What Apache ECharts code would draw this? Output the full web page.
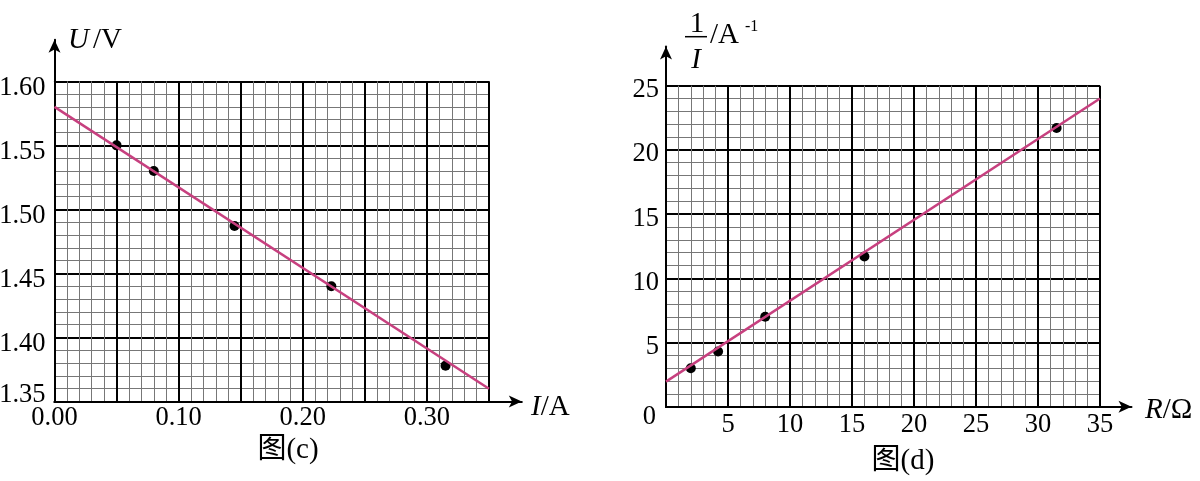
<!DOCTYPE html>
<html>
<head>
<meta charset="utf-8">
<script src="https://cdn.jsdelivr.net/npm/echarts@6/dist/echarts.min.js"></script>
<style>
html,body{margin:0;padding:0;background:#fff;}
#chart{width:1200px;height:481px;}
</style>
</head>
<body>
<div id="chart"></div>
<script>
// ---- Data: figure (c)  U–I ----
const cCurrent = [0.05, 0.08, 0.145, 0.223, 0.315];
const cVoltage = [1.55, 1.53, 1.487, 1.44, 1.378];
const cFitCurrent = [0, 0.35];
const cFitVoltage = [1.58, 1.36];
const cXTicks = [0, 0.35, 0.05];     // min, max, interval
const cYTicks = [1.35, 1.60, 0.05];

// ---- Data: figure (d)  1/I – R ----
const dResistance = [2, 4.2, 8, 16, 31.5];
const dInvCurrent = [3.0, 4.3, 7.0, 11.7, 21.7];
const dFitResistance = [0, 35];
const dFitInvCurrent = [1.95, 24];
const dXTicks = [0, 35, 5];
const dYTicks = [0, 25, 5];

const SERIF = '"Liberation Serif","Times New Roman","DejaVu Serif",serif';
const CJK = '"Liberation Serif","Noto Sans CJK SC",serif';
const FIT_COLOR = '#c7407f';
const LABEL_SIZE = 26.5;

const chart = echarts.init(document.getElementById('chart'), null, {renderer: 'canvas'});

function gridAxis(ticks, gridIndex, labelOpt, position) {
  return {
    type: 'value', gridIndex: gridIndex, position: position,
    min: ticks[0], max: ticks[1], interval: ticks[2],
    axisLine: {show: true, onZero: false, lineStyle: {color: '#000', width: 2}},
    axisTick: {show: false},
    minorTick: {show: false, splitNumber: 5},
    splitLine: {show: true, lineStyle: {color: '#000', width: 2}},
    minorSplitLine: {show: true, lineStyle: {color: '#777', width: 1}},
    axisLabel: Object.assign({show: true, color: '#000', fontFamily: SERIF, fontSize: LABEL_SIZE}, labelOpt)
  };
}
// label-only axis (same scale) used for the corner labels that sit off their tick
function labelAxis(ticks, gridIndex, labelOpt) {
  return {
    type: 'value', gridIndex: gridIndex, position: 'left', offset: 0,
    min: ticks[0], max: ticks[1], interval: ticks[2],
    axisLine: {show: false, onZero: false}, axisTick: {show: false},
    splitLine: {show: false}, minorSplitLine: {show: false},
    axisLabel: Object.assign({show: true, color: '#000', fontFamily: SERIF, fontSize: LABEL_SIZE}, labelOpt)
  };
}
function frameAxis(gridIndex, position) {
  return {
    type: 'value', gridIndex: gridIndex, min: 0, max: 1, position: position,
    axisLine: {show: true, onZero: false, symbol: ['none', 'arrow'], symbolSize: [9, 13],
               lineStyle: {color: '#000', width: 2}},
    axisTick: {show: false}, axisLabel: {show: false}, splitLine: {show: false}
  };
}

const option = {
  animation: false,
  backgroundColor: '#fff',
  grid: [
    {left: 54.5, top: 81.3, width: 434.5, height: 320.2, containLabel: false, outerBoundsMode: 'none'},
    {left: 666, top: 85.7, width: 434, height: 321, containLabel: false, outerBoundsMode: 'none'},
    {left: 54.5, top: 39.8, width: 467.3, height: 361.7, containLabel: false, outerBoundsMode: 'none'},
    {left: 666, top: 46.5, width: 465.5, height: 360.2, containLabel: false, outerBoundsMode: 'none'}
  ],
  xAxis: [
    gridAxis(cXTicks, 0, {margin: 3,
      formatter: function (v) { return Math.round(v * 100) % 10 === 0 ? v.toFixed(2) : ''; }}, 'bottom'),
    gridAxis(dXTicks, 1, {margin: 5,
      formatter: function (v) { return v === 0 ? '' : String(v); }}, 'bottom'),
    frameAxis(2, 'bottom'),
    frameAxis(3, 'bottom')
  ],
  yAxis: [
    gridAxis(cYTicks, 0, {margin: 9, verticalAlign: 'top', lineHeight: 13,
      formatter: function (v) { return Math.abs(v - cYTicks[0]) < 1e-9 ? '' : v.toFixed(2); }}, 'left'),
    gridAxis(dYTicks, 1, {margin: 7, verticalAlign: 'top', lineHeight: 9,
      formatter: function (v) { return v === dYTicks[0] ? '' : String(v); }}, 'left'),
    frameAxis(2, 'left'),
    frameAxis(3, 'left'),
    labelAxis(cYTicks, 0, {margin: 9, verticalAlign: 'bottom', lineHeight: 12,
      formatter: function (v) { return Math.abs(v - cYTicks[0]) < 1e-9 ? v.toFixed(2) : ''; }}),
    labelAxis(dYTicks, 1, {margin: 10, verticalAlign: 'top', lineHeight: 20,
      formatter: function (v) { return v === dYTicks[0] ? String(v) : ''; }})
  ],
  series: [
    {type: 'scatter', xAxisIndex: 0, yAxisIndex: 0, symbolSize: 10, z: 2,
     itemStyle: {color: '#000', opacity: 1},
     data: cCurrent.map(function (x, i) { return [x, cVoltage[i]]; })},
    {type: 'line', xAxisIndex: 0, yAxisIndex: 0, showSymbol: false, z: 3,
     lineStyle: {color: FIT_COLOR, width: 2.5},
     data: cFitCurrent.map(function (x, i) { return [x, cFitVoltage[i]]; })},
    {type: 'scatter', xAxisIndex: 1, yAxisIndex: 1, symbolSize: 10, z: 2,
     itemStyle: {color: '#000', opacity: 1},
     data: dResistance.map(function (x, i) { return [x, dInvCurrent[i]]; })},
    {type: 'line', xAxisIndex: 1, yAxisIndex: 1, showSymbol: false, z: 3,
     lineStyle: {color: FIT_COLOR, width: 2.5},
     data: dFitResistance.map(function (x, i) { return [x, dFitInvCurrent[i]]; })}
  ],
  graphic: [
    // U/V
    {type: 'text', x: 68, y: 40, style: {
      text: '{i|U}{n|/V}', verticalAlign: 'middle', align: 'left',
      rich: {i: {fontFamily: SERIF, fontStyle: 'italic', fontSize: 29, fill: '#000'},
             n: {fontFamily: SERIF, fontSize: 29, fill: '#000', padding: [0, 0, 0, 4]}}}},
    // I/A
    {type: 'text', x: 531, y: 407, style: {
      text: '{i|I}{n|/A}', verticalAlign: 'middle', align: 'left',
      rich: {i: {fontFamily: SERIF, fontStyle: 'italic', fontSize: 29, fill: '#000'},
             n: {fontFamily: SERIF, fontSize: 29, fill: '#000'}}}},
    // R/Ω
    {type: 'text', x: 1145, y: 410, style: {
      text: '{i|R}{n|/Ω}', verticalAlign: 'middle', align: 'left',
      rich: {i: {fontFamily: SERIF, fontStyle: 'italic', fontSize: 29, fill: '#000'},
             n: {fontFamily: SERIF, fontSize: 29, fill: '#000'}}}},
    // 1/I fraction label
    {type: 'text', x: 697, y: 24, style: {text: '1', font: '29px ' + SERIF, fill: '#000',
      align: 'center', verticalAlign: 'middle'}},
    {type: 'line', shape: {x1: 685, y1: 36.7, x2: 707, y2: 36.7}, style: {stroke: '#000', lineWidth: 1.5}},
    {type: 'text', x: 696, y: 60, style: {text: 'I', font: 'italic 29px ' + SERIF, fill: '#000',
      align: 'center', verticalAlign: 'middle'}},
    {type: 'text', x: 710, y: 35, style: {text: '/A', font: '29px ' + SERIF, fill: '#000',
      align: 'left', verticalAlign: 'middle'}},
    {type: 'text', x: 745, y: 27, style: {text: '-1', font: '16px ' + SERIF, fill: '#000',
      align: 'left', verticalAlign: 'middle'}},
    // captions
    {type: 'text', x: 288, y: 450, style: {text: '图(c)', font: '29px ' + CJK, fill: '#000',
      align: 'center', verticalAlign: 'middle'}},
    {type: 'text', x: 903, y: 461, style: {text: '图(d)', font: '29px ' + CJK, fill: '#000',
      align: 'center', verticalAlign: 'middle'}}
  ]
};
chart.setOption(option);
</script>
</body>
</html>
